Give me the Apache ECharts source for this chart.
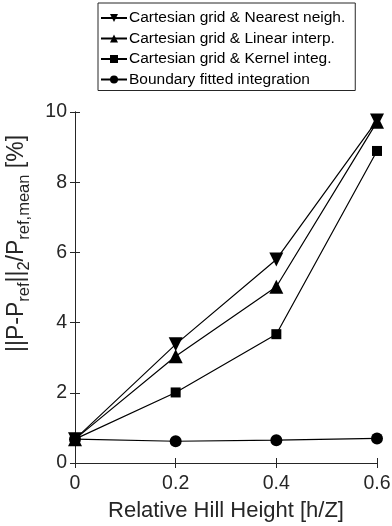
<!DOCTYPE html>
<html>
<head>
<meta charset="utf-8">
<script src="https://cdn.jsdelivr.net/npm/echarts@6/dist/echarts.min.js"></script>
<style>
  html, body { margin: 0; padding: 0; background: #fff; }
  #chart { width: 392px; height: 526px; }
</style>
</head>
<body>
<div id="chart"></div>
<script>
// Relative hill height (h/Z)
const hillHeight = [0, 0.2, 0.4, 0.6];

// Relative L2 error of pressure [%]
const nearestNeigh = [0.68, 3.38, 5.80, 9.76];
const linearInterp = [0.68, 3.04, 5.02, 9.72];
const kernelInteg = [0.68, 2.01, 3.67, 8.89];
const boundaryFitted = [0.68, 0.62, 0.65, 0.70];

const seriesNames = [
  'Cartesian grid & Nearest neigh.',
  'Cartesian grid & Linear interp.',
  'Cartesian grid & Kernel integ.',
  'Boundary fitted integration'
];

const xTicks = [0, 0.2, 0.4, 0.6];
const yTicks = [0, 2, 4, 6, 8, 10];

const ink = '#262626';
const fontFam = 'Liberation Sans, Arial, sans-serif';

function pairs(vals) {
  return hillHeight.map((x, i) => [x, vals[i]]);
}

function lineSeries(name, vals, symbol, size, rotate) {
  return {
    name: name,
    type: 'line',
    data: pairs(vals),
    symbol: symbol,
    symbolSize: size,
    symbolRotate: rotate,
    showAllSymbol: true,
    lineStyle: { color: '#000', width: 1.2 },
    itemStyle: { color: '#000' },
    emphasis: { disabled: true },
    animation: false
  };
}

const chart = echarts.init(document.getElementById('chart'), null, { renderer: 'canvas' });

const gridBox = { left: 75, right: 15, top: 112, bottom: 63 };

const axisCommon = {
  axisLine: { show: true, lineStyle: { color: ink, width: 1 } },
  axisTick: { show: true, inside: true, length: 5, lineStyle: { color: ink } },
  splitLine: { show: false }
};

chart.setOption({
  backgroundColor: '#fff',
  grid: Object.assign({ containLabel: false, outerBoundsMode: 'none' }, gridBox),
  legend: {
    orient: 'vertical',
    left: 98,
    top: 3,
    width: 260,
    padding: [7, 10, 3, 2],
    itemGap: 4.5,
    itemWidth: 26,
    itemHeight: 10,
    backgroundColor: '#fff',
    borderColor: ink,
    borderWidth: 1,
    borderRadius: 0,
    textStyle: { fontFamily: fontFam, fontSize: 15.5, color: '#000', padding: [0, 0, 0, -3] },
    data: seriesNames
  },
  xAxis: [
    Object.assign({
      type: 'value',
      min: 0, max: 0.6, interval: 0.2,
      position: 'bottom',
      name: 'Relative Hill Height [h/Z]',
      nameLocation: 'middle',
      nameGap: 37,
      nameTextStyle: { fontFamily: fontFam, fontSize: 22, color: ink },
      axisLabel: {
        fontFamily: fontFam, fontSize: 19.5, color: ink, margin: 11,
        formatter: v => (xTicks.indexOf(Math.round(v * 10) / 10) >= 0 ? String(Math.round(v * 10) / 10) : '')
      }
    }, axisCommon),
    Object.assign({
      type: 'value',
      min: 0, max: 0.6, interval: 0.2,
      position: 'top',
      axisLabel: { show: false }
    }, axisCommon)
  ],
  yAxis: [
    Object.assign({
      type: 'value',
      min: 0, max: 10, interval: 2,
      position: 'left',
      name: '{gap| }{m|||P-P}{s|ref}{m|||}{s|2}{m|/P}{s|ref,mean}{m| [%]}',
      nameLocation: 'middle',
      nameGap: 47,
      nameRotate: 90,
      nameTextStyle: {
        color: ink,
        rich: {
          gap: { width: 88, fontSize: 10 },
          m: { fontFamily: fontFam, fontSize: 23, color: ink, verticalAlign: 'bottom', lineHeight: 28 },
          s: { fontFamily: fontFam, fontSize: 16.5, color: ink, verticalAlign: 'bottom', lineHeight: 18, padding: [0, 0, -5, 0] }
        }
      },
      axisLabel: {
        fontFamily: fontFam, fontSize: 19.5, color: ink, margin: 8,
        formatter: v => (yTicks.indexOf(v) >= 0 ? String(v) : '')
      }
    }, axisCommon),
    Object.assign({
      type: 'value',
      min: 0, max: 10, interval: 2,
      position: 'right',
      axisLabel: { show: false }
    }, axisCommon)
  ],
  series: [
    lineSeries(seriesNames[0], nearestNeigh, 'triangle', 14, 180),
    lineSeries(seriesNames[1], linearInterp, 'triangle', 14, 0),
    lineSeries(seriesNames[2], kernelInteg, 'rect', 10, 0),
    lineSeries(seriesNames[3], boundaryFitted, 'circle', 12, 0)
  ]
});
</script>
</body>
</html>
